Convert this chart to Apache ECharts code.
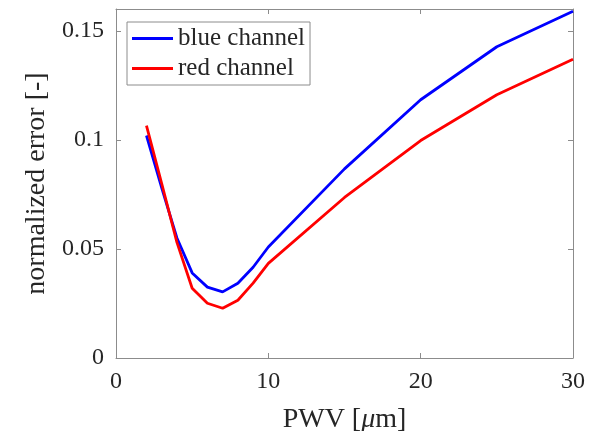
<!DOCTYPE html>
<html>
<head>
<meta charset="utf-8">
<script src="https://cdn.jsdelivr.net/npm/echarts@6/dist/echarts.min.js"></script>
<style>
  html, body { margin: 0; padding: 0; background: #fff; }
  #chart { width: 608px; height: 431px; }
</style>
</head>
<body>
<div id="chart"></div>
<script>
// PWV values (um)
var pwv = [2, 3, 4, 5, 6, 7, 8, 9, 10, 15, 20, 25, 30]
var blueChannel = [0.102, 0.078, 0.055, 0.039, 0.0325, 0.0303, 0.0343, 0.0416, 0.0509, 0.0867, 0.1184, 0.1427, 0.159]
var redChannel = [0.1065, 0.080, 0.053, 0.032, 0.0251, 0.0228, 0.0265, 0.0343, 0.0434, 0.0736, 0.0997, 0.1207, 0.137]
var yTicks = [0, 0.05, 0.1, 0.15]

var font = 'Liberation Serif'
var axisColor = '#8c8c8c'
var textColor = '#262626'

function pairs (xs, ys) {
  return xs.map(function (x, i) { return [x, ys[i]] })
}

var chart = echarts.init(document.getElementById('chart'))

var tickStyle = { show: true, inside: true, length: 5, lineStyle: { color: axisColor } }

chart.setOption({
  animation: false,
  textStyle: { fontFamily: font },
  grid: { left: 116, right: 35, top: 9, bottom: 73, outerBoundsMode: 'none', containLabel: false },
  legend: {
    left: 127,
    top: 22,
    orient: 'vertical',
    backgroundColor: '#fff',
    borderColor: '#8c8c8c',
    borderWidth: 1,
    padding: [4, 5, 4, 5],
    itemGap: 5,
    itemWidth: 41,
    itemHeight: 3,
    icon: 'rect',
    textStyle: { fontFamily: font, fontSize: 25, color: textColor, padding: [0, 0, 0, 0] },
    data: ['blue channel', 'red channel']
  },
  xAxis: [
    {
      type: 'value',
      min: 0,
      max: 30,
      interval: 10,
      name: 'PWV [{i|μ}m]',
      nameLocation: 'middle',
      nameGap: 48,
      nameTextStyle: {
        fontFamily: font, fontSize: 28, color: textColor,
        rich: { i: { fontFamily: font, fontSize: 28, fontStyle: 'italic', color: textColor } }
      },
      axisLine: { show: true, lineStyle: { color: axisColor } },
      axisTick: tickStyle,
      axisLabel: { fontFamily: font, fontSize: 24, color: textColor, margin: 12 },
      splitLine: { show: false }
    },
    {
      type: 'value',
      position: 'top',
      min: 0,
      max: 30,
      interval: 10,
      axisLine: { show: true, onZero: false, lineStyle: { color: axisColor } },
      axisTick: tickStyle,
      axisLabel: { show: false },
      splitLine: { show: false }
    }
  ],
  yAxis: [
    {
      type: 'value',
      min: 0,
      max: 0.16,
      interval: 0.05,
      name: 'normalized error [-]',
      nameLocation: 'middle',
      nameGap: 54,
      nameTextStyle: { fontFamily: font, fontSize: 28, color: textColor },
      axisLine: { show: true, lineStyle: { color: axisColor } },
      axisTick: tickStyle,
      axisLabel: {
        fontFamily: font, fontSize: 24, color: textColor, margin: 12,
        showMaxLabel: false,
        formatter: function (v) { return yTicks.indexOf(+v.toFixed(2)) >= 0 ? String(+v.toFixed(2)) : '' }
      },
      splitLine: { show: false }
    },
    {
      type: 'value',
      position: 'right',
      min: 0,
      max: 0.16,
      interval: 0.05,
      axisLine: { show: true, onZero: false, lineStyle: { color: axisColor } },
      axisTick: tickStyle,
      axisLabel: { show: false },
      splitLine: { show: false }
    }
  ],
  series: [
    {
      name: 'blue channel',
      type: 'line',
      showSymbol: false,
      color: '#0000ff',
      lineStyle: { width: 2.8, color: '#0000ff' },
      data: pairs(pwv, blueChannel)
    },
    {
      name: 'red channel',
      type: 'line',
      showSymbol: false,
      color: '#ff0000',
      lineStyle: { width: 2.8, color: '#ff0000' },
      data: pairs(pwv, redChannel)
    }
  ]
})
</script>
</body>
</html>
